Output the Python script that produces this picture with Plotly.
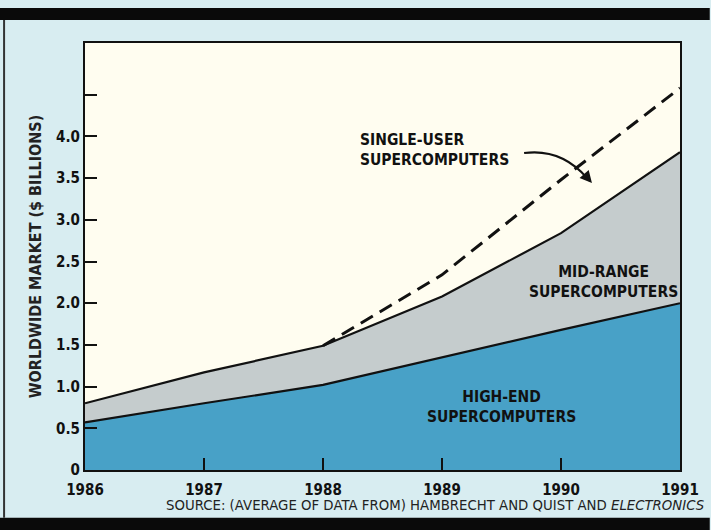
import plotly.graph_objects as go

years = [1986, 1987, 1988, 1989, 1990, 1991]
high_end = [0.57, 0.80, 1.02, 1.35, 1.68, 2.00]
mid_range_total = [0.80, 1.17, 1.49, 2.08, 2.84, 3.81]
single_user_years = [1988, 1989, 1990, 1991]
single_user_total = [1.49, 2.34, 3.48, 4.58]

y_tickvals = [0, 0.5, 1.0, 1.5, 2.0, 2.5, 3.0, 3.5, 4.0, 4.5]
y_ticktext = ["0", "0.5", "1.0", "1.5", "2.0", "2.5", "3.0", "3.5", "4.0", ""]

FONT = "DejaVu Sans Condensed, Roboto, sans-serif"

fig = go.Figure()
fig.add_trace(go.Scatter(x=years, y=high_end, mode="lines", fill="tozeroy",
                         fillcolor="#48a1c7", line=dict(color="#111", width=2.2),
                         hoverinfo="skip", showlegend=False))
fig.add_trace(go.Scatter(x=years, y=mid_range_total, mode="lines", fill="tonexty",
                         fillcolor="#c5cccd", line=dict(color="#111", width=2.2),
                         hoverinfo="skip", showlegend=False))
fig.add_trace(go.Scatter(x=single_user_years, y=single_user_total, mode="lines",
                         line=dict(color="#111", width=3, dash="14px,8px"),
                         hoverinfo="skip", showlegend=False))

label_font = dict(family=FONT, size=15.5, color="#111", weight="bold")
fig.add_annotation(x=1988.29, y=3.84, xref="x", yref="y", showarrow=False,
                   text="SINGLE-USER<br>SUPERCOMPUTERS", align="left",
                   xanchor="left", yanchor="middle", font=label_font)
fig.add_annotation(x=1990.36, y=2.25, xref="x", yref="y", showarrow=False,
                   text="MID-RANGE<br>SUPERCOMPUTERS", align="center",
                   font=label_font)
fig.add_annotation(x=1989.5, y=0.76, xref="x", yref="y", showarrow=False,
                   text="HIGH-END<br>SUPERCOMPUTERS", align="center",
                   font=label_font)
# curved arrow
fig.add_shape(type="path", xref="x", yref="y",
              path="M 1989.69 3.80 Q 1990.0 3.86 1990.22 3.50",
              line=dict(color="#111", width=2))
fig.add_annotation(x=1990.26, y=3.44, ax=1990.20, ay=3.54, xref="x", yref="y",
                   axref="x", ayref="y", showarrow=True, arrowhead=2,
                   arrowsize=1.2, arrowwidth=2, arrowcolor="#111", text="")

# source line
fig.add_annotation(x=1.045, y=-0.083, xref="paper", yref="paper", showarrow=False,
                   xanchor="right", yanchor="middle",
                   text="SOURCE: (AVERAGE OF DATA FROM) HAMBRECHT AND QUIST AND <i>ELECTRONICS</i>",
                   font=dict(family="DejaVu Sans, sans-serif", size=13.3, color="#222"))

# decorative frame bands
fig.add_shape(type="rect", xref="paper", yref="paper", x0=-0.15, x1=1.05,
              y0=1.054, y1=1.082, fillcolor="#0a0a0a", line=dict(width=0), layer="above")
fig.add_shape(type="rect", xref="paper", yref="paper", x0=-0.15, x1=1.05,
              y0=-0.145, y1=-0.112, fillcolor="#0a0a0a", line=dict(width=0), layer="above")
fig.add_shape(type="line", xref="paper", yref="paper", x0=-0.136, x1=-0.136,
              y0=-0.112, y1=1.054, line=dict(color="#333", width=2))

fig.update_layout(
    width=711, height=530,
    margin=dict(l=85, r=26, t=43, b=60),
    paper_bgcolor="#d8edf1",
    plot_bgcolor="#fffdf0",
    showlegend=False,
    xaxis=dict(range=[1986, 1991], tickvals=years, ticktext=[str(y) for y in years],
               showgrid=False, zeroline=False, showline=True, linecolor="#111",
               linewidth=2, mirror=True, ticks="inside", ticklen=12, tickwidth=1.5,
               tickcolor="#111", ticklabelstandoff=5,
               tickfont=dict(family=FONT, size=15, color="#111", weight="bold")),
    yaxis=dict(range=[0, 5.12], tickvals=y_tickvals, ticktext=y_ticktext,
               showgrid=False, zeroline=False, showline=True, linecolor="#111",
               linewidth=2, mirror=True, ticks="inside", ticklen=12, tickwidth=1.5,
               tickcolor="#111",
               tickfont=dict(family=FONT, size=15, color="#111", weight="bold"),
               title=dict(text="WORLDWIDE MARKET ($ BILLIONS)", standoff=10,
                          font=dict(family=FONT, size=16, color="#222", weight="bold"))),
)

fig.write_html("out.html", config={"displayModeBar": False},
               post_script="document.body.style.margin='0';"
                           "document.body.style.overflow='hidden';"
                           "document.body.style.background='#d8edf1';")
